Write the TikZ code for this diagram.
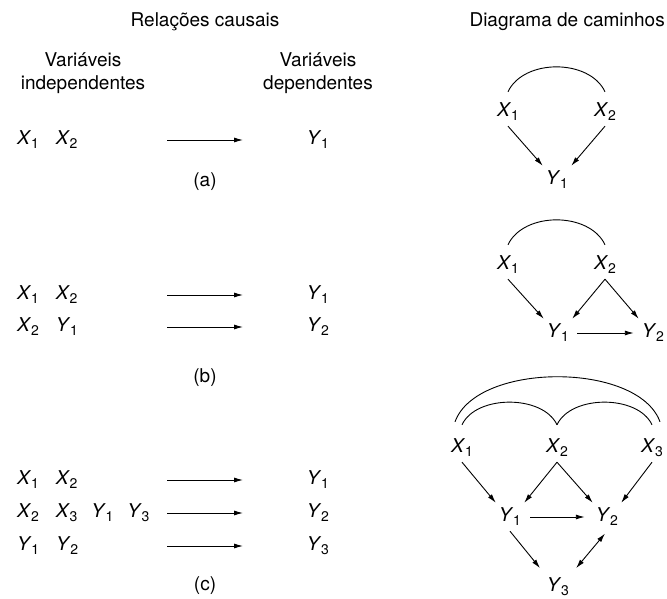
\documentclass[tikz,border=0pt]{standalone}
\usepackage{fontspec}
\setmainfont{TeX Gyre Heros}
\usetikzlibrary{arrows.meta, positioning}

% variable with its index
\newcommand{\vr}[2]{\textit{#1}\kern-0.3pt\raisebox{-4pt}{\fontsize{14}{14}\selectfont #2}}
\newcommand{\gap}{\hspace{17pt}}

\begin{document}
\begin{tikzpicture}[
    x=1pt, y=-1pt,
    every node/.style={font=\fontsize{19}{23}\selectfont, inner sep=1pt},
    row/.style={anchor=west},
    vn/.style={minimum width=28pt, minimum height=28pt, inner sep=0pt},
    arr/.style={-{Latex[length=9pt, width=5pt]}, line width=0.9pt},
    barr/.style={{Latex[length=9pt, width=5pt]}-{Latex[length=9pt, width=5pt]}, line width=0.9pt},
    corr/.style={line width=0.9pt}
]
\useasboundingbox (0,0) rectangle (667,599);

% Headings
\node (hcausal) at (205,22) {Relações causais};
\node[anchor=east] (hpath) at (666,22) {Diagrama de caminhos};
\node[align=center] (hind) at (83,73) {Variáveis\\independentes};
\node[align=center] (hdep) at (318,73) {Variáveis\\dependentes};

% (a) causal relations
\node[row] (ra1) at (16,140) {\vr{X}{1}\gap\vr{X}{2}};
\coordinate (sa1) at (167,140);
\coordinate (ea1) at (243,140);
\node (da1) at (318,140) {\vr{Y}{1}};
\draw[arr] (sa1) -- (ea1);
\node (laba) at (205,182) {(a)};

% (b) causal relations
\node[row] (rb1) at (16,295) {\vr{X}{1}\gap\vr{X}{2}};
\node[row] (rb2) at (16,327) {\vr{X}{2}\gap\vr{Y}{1}};
\coordinate (sb1) at (167,295);
\coordinate (eb1) at (243,295);
\coordinate (sb2) at (167,327);
\coordinate (eb2) at (243,327);
\node (db1) at (318,295) {\vr{Y}{1}};
\node (db2) at (318,327) {\vr{Y}{2}};
\draw[arr] (sb1) -- (eb1);
\draw[arr] (sb2) -- (eb2);
\node (labb) at (205,378) {(b)};

% (c) causal relations
\node[row] (rc1) at (16,480) {\vr{X}{1}\gap\vr{X}{2}};
\node[row] (rc2) at (16,513) {\vr{X}{2}\gap\vr{X}{3}\hspace{14pt}\vr{Y}{1}\hspace{14pt}\vr{Y}{3}};
\node[row] (rc3) at (16,546) {\vr{Y}{1}\gap\vr{Y}{2}};
\coordinate (sc1) at (167,480);
\coordinate (ec1) at (243,480);
\coordinate (sc2) at (167,513);
\coordinate (ec2) at (243,513);
\coordinate (sc3) at (167,546);
\coordinate (ec3) at (243,546);
\node (dc1) at (318,480) {\vr{Y}{1}};
\node (dc2) at (318,513) {\vr{Y}{2}};
\node (dc3) at (318,546) {\vr{Y}{3}};
\draw[arr] (sc1) -- (ec1);
\draw[arr] (sc2) -- (ec2);
\draw[arr] (sc3) -- (ec3);
\node (labc) at (205,586) {(c)};

% Path diagram (a)
\node[vn] (pax1) at (508,112) {\vr{X}{1}};
\node[vn] (pax2) at (605,112) {\vr{X}{2}};
\node[vn] (pay1) at (557,180) {\vr{Y}{1}};
\draw[corr] ([yshift=6pt]pax1.north) to[out=65, in=115, looseness=0.97] ([yshift=6pt]pax2.north);
\draw[arr] (pax1.south) -- (pay1.north west);
\draw[arr] (pax2.south) -- (pay1.north east);

% Path diagram (b)
\node[vn] (pbx1) at (508,265) {\vr{X}{1}};
\node[vn] (pbx2) at (605,265) {\vr{X}{2}};
\node[vn] (pby1) at (558,333) {\vr{Y}{1}};
\node[vn] (pby2) at (653,333) {\vr{Y}{2}};
\draw[corr] ([yshift=6pt]pbx1.north) to[out=65, in=115, looseness=0.97] ([yshift=6pt]pbx2.north);
\draw[arr] (pbx1.south) -- (pby1.north west);
\draw[arr] (pbx2.south) -- (pby1.north east);
\draw[arr] (pbx2.south) -- (pby2.north west);
\draw[arr, shorten <=5pt, shorten >=5pt] (pby1.east) -- (pby2.west);

% Path diagram (c)
\node[vn] (pcx1) at (462,448) {\vr{X}{1}};
\node[vn] (pcx2) at (557,448) {\vr{X}{2}};
\node[vn] (pcx3) at (652,448) {\vr{X}{3}};
\node[vn] (pcy1) at (510,517) {\vr{Y}{1}};
\node[vn] (pcy2) at (607,517) {\vr{Y}{2}};
\node[vn] (pcy3) at (558,587) {\vr{Y}{3}};
\draw[corr] ([xshift=-7pt, yshift=12pt]pcx1.north) to[out=70, in=110, looseness=0.8] ([xshift=8pt, yshift=12pt]pcx3.north);
\draw[corr] ([yshift=9pt]pcx1.north) to[out=65, in=115, looseness=0.9] ([yshift=9pt]pcx2.north);
\draw[corr] ([yshift=9pt]pcx2.north) to[out=65, in=115, looseness=0.9] ([yshift=9pt]pcx3.north);
\draw[arr] (pcx1.south) -- (pcy1.north west);
\draw[arr] (pcx2.south) -- (pcy1.north east);
\draw[arr] (pcx2.south) -- (pcy2.north west);
\draw[arr] (pcx3.south) -- (pcy2.north east);
\draw[arr, shorten <=6pt, shorten >=8pt] (pcy1.east) -- (pcy2.west);
\draw[arr, shorten >=6pt] (pcy1.south) -- (pcy3.north west);
\draw[barr, shorten <=3pt, shorten >=6pt] (pcy2.south) -- (pcy3.north east);
\end{tikzpicture}
\end{document}
